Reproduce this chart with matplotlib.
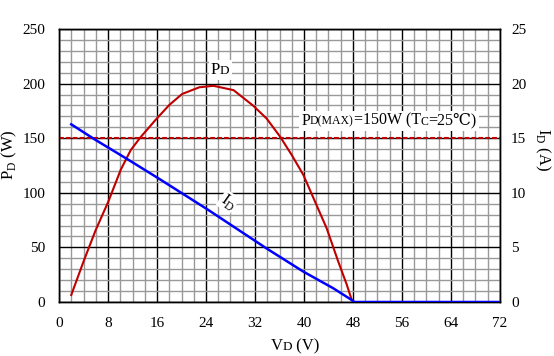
import matplotlib
matplotlib.use("Agg")
import matplotlib.pyplot as plt
from matplotlib.ticker import MultipleLocator
from matplotlib.offsetbox import TextArea, HPacker, AnnotationBbox

plt.rcParams['font.family'] = ['Liberation Serif', 'DejaVu Serif']
plt.rcParams['mathtext.fontset'] = 'custom'
plt.rcParams['mathtext.rm'] = 'Liberation Serif'
plt.rcParams['mathtext.fallback'] = 'stix'

# Power dissipation PD (W) vs VD (V)
pd_v = [2.0, 4.1, 6.0, 8.05, 10.07, 11.7, 13.3, 15.8, 18.0, 20.1, 22.9, 25.2, 28.5,
        31.7, 33.9, 36.1, 38.0, 39.9, 41.8, 43.7, 45.6, 47.0, 47.8, 48.2]
pd_w = [6.4, 38.5, 66, 91.9, 121, 139, 150.8, 167, 180.4, 190.5, 196.6, 198, 194,
        179.8, 168, 151.4, 134.6, 116.3, 91.9, 67.5, 36.9, 15.6, 1.8, 0]

# Drain current ID (A) vs VD (V)
id_v = [2.0, 6.0, 11.4, 16.3, 20.1, 24.4, 28.5, 33.9, 39.9, 44.8, 47.8, 48.2, 72.0]
id_a = [16.27, 14.83, 13.0, 11.3, 9.95, 8.42, 6.9, 4.9, 2.78, 1.25, 0.18, 0.0, 0.0]

pd_max = 150
x_ticks = [0, 8, 16, 24, 32, 40, 48, 56, 64, 72]
left_ticks = [0, 50, 100, 150, 200, 250]
right_ticks = [0, 5, 10, 15, 20, 25]

W, H = 554, 356
fig = plt.figure(figsize=(W/100, H/100), dpi=100)
ax = fig.add_axes([59/W, 1-302/H, 441/W, 273/H])
ax2 = ax.twinx()

ax.set_xlim(0, 72)
ax.set_ylim(0, 250)
ax2.set_ylim(0, 25)

ax.xaxis.set_minor_locator(MultipleLocator(2))
ax.yaxis.set_minor_locator(MultipleLocator(10))
ax.set_xticks(x_ticks)
ax.set_yticks(left_ticks)
ax2.set_yticks(right_ticks)

ax.grid(which='minor', color='#999999', linewidth=1.0, zorder=0)
ax.grid(which='major', color='black', linewidth=1.0, zorder=0)
ax.set_axisbelow(True)

for a in (ax, ax2):
    a.tick_params(which='both', length=0, labelsize=11)
    for s in a.spines.values():
        s.set_color('black')
        s.set_linewidth(1.0)
ax.tick_params(axis='x', pad=11)
ax.tick_params(axis='y', pad=10)
ax2.tick_params(axis='y', pad=8)

ax.set_zorder(1)
ax2.set_zorder(2)
ax2.patch.set_visible(False)

ax.axhline(pd_max, color='#C00000', linestyle=(0, (2.3, 1.0)), linewidth=1.5, zorder=3)
ax.plot(pd_v, pd_w, color='#C00000', linewidth=1.5, zorder=4)
ax2.plot(id_v, id_a, color='#0000FF', linewidth=1.8, zorder=4)


def mixed(parts, xy, coords, target, box=True):
    kids = [TextArea(t, textprops=dict(fontsize=s, color='black')) for t, s in parts]
    pack = HPacker(children=kids, align='baseline', pad=0, sep=0)
    ab = AnnotationBbox(pack, xy, xycoords=coords, frameon=box, pad=0.15,
                        bboxprops=dict(facecolor='white', edgecolor='none'))
    ab.set_zorder(6)
    target.add_artist(ab)
    return ab

big, small = 11.5, 8.5
mixed([('P', 12), ('D', 9.5)], (26.3, 212.5), 'data', ax)
mixed([('P', big), ('D(MAX)', small), ('=150W (T', big), ('C', small), ('=25℃)', big)],
      (53.9, 166), 'data', ax)
ax.text(27.6, 91.8, r'I$_\mathrm{D}$', fontsize=12, ha='center', va='center', rotation=-35,
        bbox=dict(facecolor='white', edgecolor='none', pad=0.5), zorder=6)

# axis labels
mixed([('V', 12), ('D', 9.5), (' (V)', 12)], (295/W, 1-346/H), 'figure fraction', fig, box=False)
fig.text(9/W, 1-155/H, r'P$_\mathrm{D}$ (W)', fontsize=12, rotation=90, ha='center', va='center')
fig.text(543/W, 1-150/H, r'I$_\mathrm{D}$ (A)', fontsize=12, rotation=-90, ha='center', va='center')

fig.savefig('out.png', dpi=100)
